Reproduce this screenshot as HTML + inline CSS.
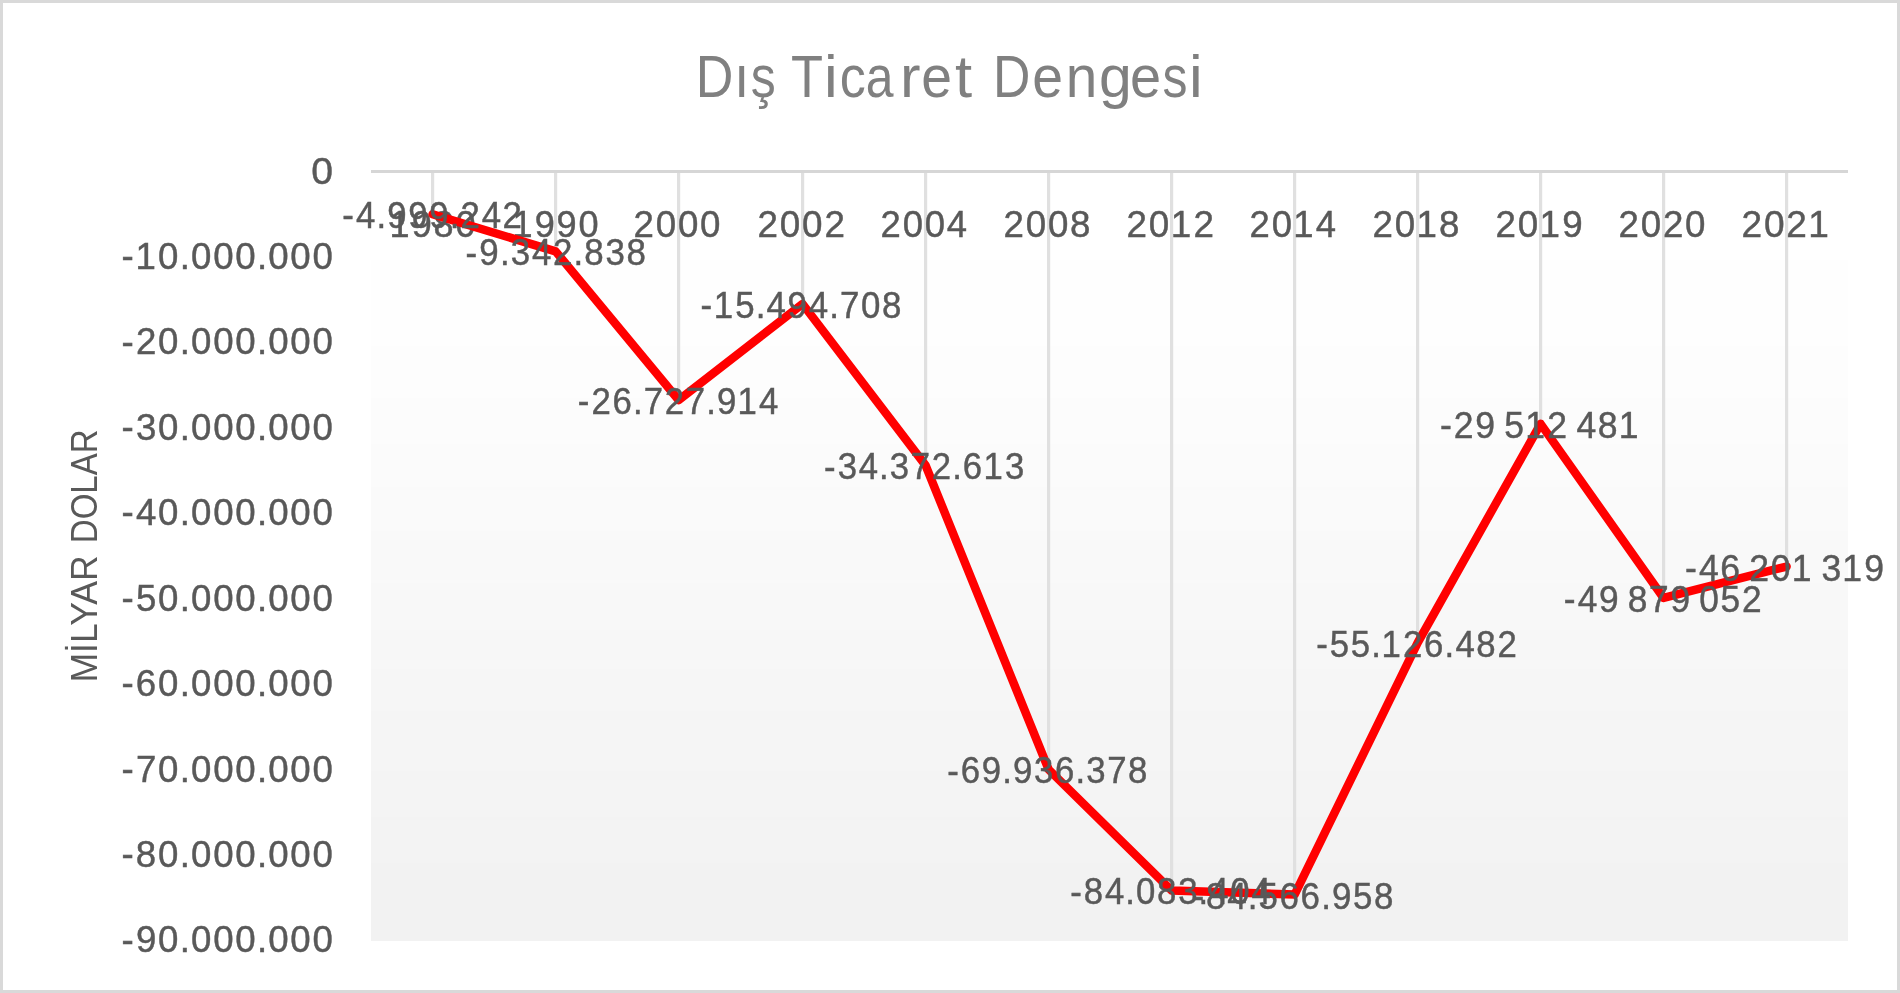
<!DOCTYPE html>
<html><head><meta charset="utf-8"><style>
html,body{margin:0;padding:0;background:#fff;overflow:hidden;}
svg{display:block;will-change:transform;}
text{font-family:"Liberation Sans",sans-serif;}
.n text{stroke:#595959;stroke-width:0.45px;}
</style></head><body>
<svg width="1900" height="993" viewBox="0 0 1900 993">
<rect x="0" y="0" width="1900" height="993" fill="#fff"/>
<rect x="1.5" y="1.5" width="1897" height="990" fill="none" stroke="#d9d9d9" stroke-width="3"/>
<rect x="371" y="171" width="1477" height="89" fill="rgb(255,255,255)"/><rect x="371" y="260" width="1477" height="86" fill="rgb(254,254,254)"/><rect x="371" y="346" width="1477" height="52" fill="rgb(253,253,253)"/><rect x="371" y="398" width="1477" height="46" fill="rgb(252,252,252)"/><rect x="371" y="444" width="1477" height="43" fill="rgb(251,251,251)"/><rect x="371" y="487" width="1477" height="44" fill="rgb(250,250,250)"/><rect x="371" y="531" width="1477" height="52" fill="rgb(249,249,249)"/><rect x="371" y="583" width="1477" height="47" fill="rgb(248,248,248)"/><rect x="371" y="630" width="1477" height="39" fill="rgb(247,247,247)"/><rect x="371" y="669" width="1477" height="42" fill="rgb(246,246,246)"/><rect x="371" y="711" width="1477" height="60" fill="rgb(245,245,245)"/><rect x="371" y="771" width="1477" height="46" fill="rgb(244,244,244)"/><rect x="371" y="817" width="1477" height="46" fill="rgb(243,243,243)"/><rect x="371" y="863" width="1477" height="78" fill="rgb(242,242,242)"/>
<g stroke="#e0e0e0" stroke-width="3.2"><line x1="432.60" y1="171.5" x2="432.60" y2="214.24"/><line x1="555.60" y1="171.5" x2="555.60" y2="251.38"/><line x1="678.60" y1="171.5" x2="678.60" y2="400.02"/><line x1="802.60" y1="171.5" x2="802.60" y2="303.98"/><line x1="925.60" y1="171.5" x2="925.60" y2="465.39"/><line x1="1048.60" y1="171.5" x2="1048.60" y2="769.46"/><line x1="1171.60" y1="171.5" x2="1171.60" y2="890.41"/><line x1="1294.60" y1="171.5" x2="1294.60" y2="894.55"/><line x1="1417.60" y1="171.5" x2="1417.60" y2="642.83"/><line x1="1540.60" y1="171.5" x2="1540.60" y2="423.83"/><line x1="1663.60" y1="171.5" x2="1663.60" y2="597.97"/><line x1="1786.60" y1="171.5" x2="1786.60" y2="566.52"/></g>
<line x1="371" y1="171.5" x2="1848" y2="171.5" stroke="#d6d6d6" stroke-width="3"/>
<text transform="translate(695.73 96.80) scale(0.5210 0.5870)" font-size="100" fill="#808080">D</text><text transform="translate(734.02 96.80) scale(0.5556 0.5870)" font-size="100" fill="#808080">ı</text><text transform="translate(750.65 96.80) scale(0.4989 0.5870)" font-size="100" fill="#808080">ş</text><text transform="translate(790.89 96.80) scale(0.5239 0.5870)" font-size="100" fill="#808080">T</text><text transform="translate(824.02 96.80) scale(0.6163 0.5870)" font-size="100" fill="#808080">i</text><text transform="translate(839.86 96.80) scale(0.5209 0.5870)" font-size="100" fill="#808080">c</text><text transform="translate(865.73 96.80) scale(0.4989 0.5870)" font-size="100" fill="#808080">a</text><text transform="translate(899.89 96.80) scale(0.6163 0.5870)" font-size="100" fill="#808080">r</text><text transform="translate(921.26 96.80) scale(0.5527 0.5870)" font-size="100" fill="#808080">e</text><text transform="translate(955.02 96.80) scale(0.6163 0.5870)" font-size="100" fill="#808080">t</text><text transform="translate(992.96 96.80) scale(0.5176 0.5870)" font-size="100" fill="#808080">D</text><text transform="translate(1032.16 96.80) scale(0.5527 0.5870)" font-size="100" fill="#808080">e</text><text transform="translate(1065.66 96.80) scale(0.5671 0.5870)" font-size="100" fill="#808080">n</text><text transform="translate(1098.89 96.80) scale(0.5889 0.5870)" font-size="100" fill="#808080">g</text><text transform="translate(1130.08 96.80) scale(0.5591 0.5870)" font-size="100" fill="#808080">e</text><text transform="translate(1162.55 96.80) scale(0.4989 0.5870)" font-size="100" fill="#808080">s</text><text transform="translate(1189.02 96.80) scale(0.6163 0.5870)" font-size="100" fill="#808080">i</text>
<text transform="translate(97.20 682.55) rotate(-90) scale(0.3562 0.3739)" font-size="100" fill="#595959">MİLYAR</text><text transform="translate(97.20 543.24) rotate(-90) scale(0.3306 0.3739)" font-size="100" fill="#595959">DOLAR</text>
<g class="n"><text transform="translate(310.26 183.64) scale(1.0728 0.9956)" x="0.91" y="0" font-size="36.5" fill="#595959">0</text><text transform="translate(120.36 269.05) scale(1.0040 0.9956)" x="1.19 15.05 37.58 59.07 70.35 92.42 114.49 135.98 147.26 169.33 191.40" y="-0.8 0 0 0 0 0 0 0 0 0 0" font-size="36.5" fill="#595959">-10.000.000</text><text transform="translate(120.36 354.46) scale(1.0040 0.9956)" x="1.19 15.51 37.58 59.07 70.35 92.42 114.49 135.98 147.26 169.33 191.40" y="-0.8 0 0 0 0 0 0 0 0 0 0" font-size="36.5" fill="#595959">-20.000.000</text><text transform="translate(120.36 439.87) scale(1.0040 0.9956)" x="1.19 15.60 37.58 59.07 70.35 92.42 114.49 135.98 147.26 169.33 191.40" y="-0.8 0 0 0 0 0 0 0 0 0 0" font-size="36.5" fill="#595959">-30.000.000</text><text transform="translate(120.36 525.28) scale(1.0040 0.9956)" x="1.19 15.60 37.58 59.07 70.35 92.42 114.49 135.98 147.26 169.33 191.40" y="-0.8 0 0 0 0 0 0 0 0 0 0" font-size="36.5" fill="#595959">-40.000.000</text><text transform="translate(120.36 610.69) scale(1.0040 0.9956)" x="1.19 15.51 37.58 59.07 70.35 92.42 114.49 135.98 147.26 169.33 191.40" y="-0.8 0 0 0 0 0 0 0 0 0 0" font-size="36.5" fill="#595959">-50.000.000</text><text transform="translate(120.36 696.10) scale(1.0040 0.9956)" x="1.19 15.41 37.58 59.07 70.35 92.42 114.49 135.98 147.26 169.33 191.40" y="-0.8 0 0 0 0 0 0 0 0 0 0" font-size="36.5" fill="#595959">-60.000.000</text><text transform="translate(120.36 781.51) scale(1.0040 0.9956)" x="1.19 15.51 37.58 59.07 70.35 92.42 114.49 135.98 147.26 169.33 191.40" y="-0.8 0 0 0 0 0 0 0 0 0 0" font-size="36.5" fill="#595959">-70.000.000</text><text transform="translate(120.36 866.92) scale(1.0040 0.9956)" x="1.19 15.41 37.58 59.07 70.35 92.42 114.49 135.98 147.26 169.33 191.40" y="-0.8 0 0 0 0 0 0 0 0 0 0" font-size="36.5" fill="#595959">-80.000.000</text><text transform="translate(120.36 952.33) scale(1.0040 0.9956)" x="1.19 15.51 37.58 59.07 70.35 92.42 114.49 135.98 147.26 169.33 191.40" y="-0.8 0 0 0 0 0 0 0 0 0 0" font-size="36.5" fill="#595959">-90.000.000</text><text transform="translate(389.05 237.23) scale(0.9888 1.0033)" x="0.45 22.98 44.95 67.12" y="0 0 0 0" font-size="36.5" fill="#595959">1980</text><text transform="translate(512.05 237.23) scale(0.9888 1.0033)" x="0.45 22.98 45.05 67.12" y="0 0 0 0" font-size="36.5" fill="#595959">1990</text><text transform="translate(632.66 237.23) scale(1.0050 1.0033)" x="0.91 22.98 45.05 67.12" y="0 0 0 0" font-size="36.5" fill="#595959">2000</text><text transform="translate(756.64 237.23) scale(1.0094 1.0033)" x="0.91 22.98 45.05 67.12" y="0 0 0 0" font-size="36.5" fill="#595959">2002</text><text transform="translate(879.67 237.23) scale(0.9995 1.0033)" x="0.91 22.98 45.05 67.21" y="0 0 0 0" font-size="36.5" fill="#595959">2004</text><text transform="translate(1002.65 237.23) scale(1.0061 1.0033)" x="0.91 22.98 45.05 67.03" y="0 0 0 0" font-size="36.5" fill="#595959">2008</text><text transform="translate(1125.64 237.23) scale(1.0094 1.0033)" x="0.91 22.98 44.59 67.12" y="0 0 0 0" font-size="36.5" fill="#595959">2012</text><text transform="translate(1248.67 237.23) scale(0.9995 1.0033)" x="0.91 22.98 44.59 67.21" y="0 0 0 0" font-size="36.5" fill="#595959">2014</text><text transform="translate(1371.65 237.23) scale(1.0061 1.0033)" x="0.91 22.98 44.59 67.03" y="0 0 0 0" font-size="36.5" fill="#595959">2018</text><text transform="translate(1494.65 237.23) scale(1.0072 1.0033)" x="0.91 22.98 44.59 67.12" y="0 0 0 0" font-size="36.5" fill="#595959">2019</text><text transform="translate(1617.66 237.23) scale(1.0050 1.0033)" x="0.91 22.98 45.05 67.12" y="0 0 0 0" font-size="36.5" fill="#595959">2020</text><text transform="translate(1740.63 237.23) scale(1.0150 1.0033)" x="0.91 22.98 45.05 66.66" y="0 0 0 0" font-size="36.5" fill="#595959">2021</text></g>
<polyline points="432.60,214.24 555.60,251.38 678.60,400.02 802.60,303.98 925.60,465.39 1048.60,769.46 1171.60,890.41 1294.60,894.55 1417.60,642.83 1540.60,423.83 1663.60,597.97 1786.60,566.52" fill="none" stroke="#ff0000" stroke-width="8.5" stroke-linejoin="round" stroke-linecap="round"/>
<g class="n"><text transform="translate(341.20 228.28) scale(0.9533 0.9956)" x="1.19 15.60 37.00 48.28 70.35 92.42 113.91 125.19 147.35 169.33" y="-0.8 0 0 0 0 0 0 0 0 0" font-size="36.5" fill="#595959">-4.999.242</text><text transform="translate(464.49 265.42) scale(0.9568 0.9956)" x="1.19 15.51 37.00 48.37 70.44 92.42 113.91 125.09 147.35 169.23" y="-0.8 0 0 0 0 0 0 0 0 0" font-size="36.5" fill="#595959">-9.342.838</text><text transform="translate(576.71 414.06) scale(0.9523 0.9956)" x="1.19 15.51 37.48 59.07 70.35 92.42 114.49 135.98 147.26 168.87 191.49" y="-0.8 0 0 0 0 0 0 0 0 0 0" font-size="36.5" fill="#595959">-26.727.914</text><text transform="translate(699.30 318.02) scale(0.9553 0.9956)" x="1.19 15.05 37.58 59.07 70.44 92.42 114.58 135.98 147.26 169.33 191.30" y="-0.8 0 0 0 0 0 0 0 0 0 0" font-size="36.5" fill="#595959">-15.494.708</text><text transform="translate(822.81 479.42) scale(0.9514 0.9956)" x="1.19 15.60 37.67 59.07 70.44 92.42 114.49 135.98 147.16 168.87 191.49" y="-0.8 0 0 0 0 0 0 0 0 0 0" font-size="36.5" fill="#595959">-34.372.613</text><text transform="translate(946.01 783.49) scale(0.9519 0.9956)" x="1.19 15.41 37.58 59.07 70.35 92.51 114.39 135.98 147.35 169.33 191.30" y="-0.8 0 0 0 0 0 0 0 0 0 0" font-size="36.5" fill="#595959">-69.936.378</text><text transform="translate(1069.00 904.45) scale(0.9527 0.9956)" x="1.19 15.41 37.67 59.07 70.35 92.32 114.58 135.98 147.35 169.33 191.49" y="-0.8 0 0 0 0 0 0 0 0 0 0" font-size="36.5" fill="#595959">-84.083.404</text><text transform="translate(1191.30 908.58) scale(0.9553 0.9956)" x="1.19 15.41 37.67 59.07 70.35 92.32 114.39 135.98 147.26 169.33 191.30" y="-0.8 0 0 0 0 0 0 0 0 0 0" font-size="36.5" fill="#595959">-84.566.958</text><text transform="translate(1315.00 656.87) scale(0.9531 0.9956)" x="1.19 15.51 37.58 59.07 69.89 92.42 114.39 135.98 147.35 169.23 191.40" y="-0.8 0 0 0 0 0 0 0 0 0 0" font-size="36.5" fill="#595959">-55.126.482</text><text transform="translate(1438.75 437.87) scale(0.9739 0.9956)" x="1.19 15.51 37.58 67.35 88.96 111.49 141.35 163.23 184.94" y="-0.8 0 0 0 0 0 0 0 0" font-size="36.5" fill="#595959">-29512481</text><text transform="translate(1562.56 612.00) scale(0.9677 0.9956)" x="1.19 15.60 37.58 67.25 89.42 111.49 141.26 163.33 185.40" y="-0.8 0 0 0 0 0 0 0 0" font-size="36.5" fill="#595959">-49879052</text><text transform="translate(1683.75 580.56) scale(0.9737 0.9956)" x="1.19 15.60 37.48 67.35 89.42 111.03 141.35 162.87 185.40" y="-0.8 0 0 0 0 0 0 0 0" font-size="36.5" fill="#595959">-46201319</text></g>
</svg>
</body></html>
